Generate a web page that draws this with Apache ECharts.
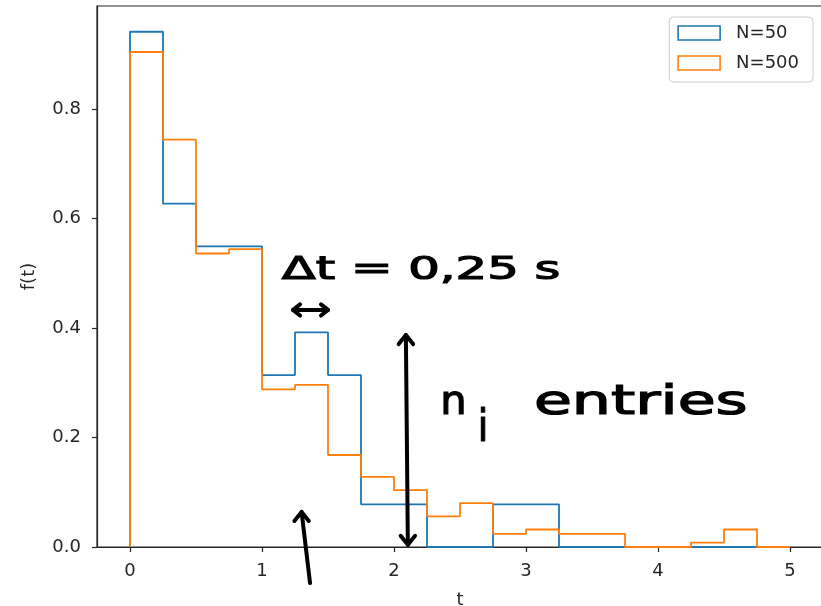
<!DOCTYPE html>
<html>
<head>
<meta charset="utf-8">
<script src="https://cdn.jsdelivr.net/npm/echarts@6/dist/echarts.min.js"></script>
<style>
  html, body { margin: 0; padding: 0; background: #fff; }
  #main { width: 821px; height: 606px; }
</style>
</head>
<body>
<div id="main"></div>
<script>
// Histogram bin edges (Δt = 0.25 s) and normalised bin heights f(t)
const binEdges = [0, 0.25, 0.5, 0.75, 1, 1.25, 1.5, 1.75, 2, 2.25, 2.5,
                  2.75, 3, 3.25, 3.5, 3.75, 4, 4.25, 4.5, 4.75, 5];
const seriesNames = ['N=50', 'N=500'];
const densityN50 = [0.941, 0.627, 0.549, 0.549, 0.314, 0.392, 0.314, 0.078, 0.078, 0,
                    0, 0.078, 0.078, 0, 0, 0, 0, 0, 0, 0];
const densityN500 = [0.904, 0.744, 0.536, 0.544, 0.288, 0.296, 0.168, 0.128, 0.104, 0.056,
                     0.080, 0.024, 0.032, 0.024, 0.024, 0, 0, 0.008, 0.032, 0];
const xTicks = [0, 1, 2, 3, 4, 5];
const yTicks = [0, 0.2, 0.4, 0.6, 0.8];

const FONT = 'DejaVu Sans';
const INK = '#262626';
const BLUE = '#1f77b4';
const ORANGE = '#ff7f0e';

// Outline of a step histogram: up from the first edge, across every bin, down at the last edge
function stepOutline(edges, values) {
  const pts = [[edges[0], 0]];
  for (let i = 0; i < values.length; i++) pts.push([edges[i], values[i]]);
  const n = values.length;
  pts.push([edges[n], values[n - 1]]);
  pts.push([edges[n], 0]);
  return pts;
}

const chart = echarts.init(document.getElementById('main'), null, { renderer: 'canvas' });
const yMax = Math.max(...densityN50, ...densityN500) * 1.05;

chart.setOption({
  animation: false,
  backgroundColor: '#fff',
  grid: {
    left: 97, right: -2, top: 6, bottom: 59,
    outerBoundsMode: 'none', containLabel: false,
    show: true, borderColor: INK, borderWidth: 1.2, backgroundColor: 'transparent'
  },
  xAxis: {
    type: 'value', min: -0.25, max: 5.25,
    name: 't', nameLocation: 'middle', nameGap: 44,
    nameTextStyle: { fontFamily: FONT, fontSize: 18, color: INK },
    axisLine: { show: true, onZero: false, lineStyle: { color: INK, width: 1.2 } },
    axisTick: { show: true, customValues: xTicks, length: 5, lineStyle: { color: INK, width: 1.2 } },
    axisLabel: { customValues: xTicks, margin: 15, fontFamily: FONT, fontSize: 18, color: INK,
                 formatter: v => String(v) },
    splitLine: { show: false }
  },
  yAxis: {
    type: 'value', min: 0, max: yMax,
    name: 'f(t)', nameLocation: 'middle', nameGap: 59,
    nameTextStyle: { fontFamily: FONT, fontSize: 18, color: INK },
    axisLine: { show: true, onZero: false, lineStyle: { color: INK, width: 1.2 } },
    axisTick: { show: true, customValues: yTicks, length: 5, lineStyle: { color: INK, width: 1.2 } },
    axisLabel: { customValues: yTicks, margin: 16, fontFamily: FONT, fontSize: 18, color: INK,
                 formatter: v => v.toFixed(1) },
    splitLine: { show: false }
  },
  legend: {
    orient: 'vertical', right: 8, top: 17,
    icon: 'rect', itemWidth: 42, itemHeight: 14, itemGap: 12,
    padding: [7, 14, 10, 8],
    backgroundColor: 'rgba(255,255,255,0.8)', borderColor: '#cccccc', borderWidth: 1, borderRadius: 4,
    textStyle: { fontFamily: FONT, fontSize: 18, color: INK, padding: [0, 0, 0, 11] },
    data: [
      { name: seriesNames[0], itemStyle: { color: '#fff', borderColor: BLUE, borderWidth: 1.6 } },
      { name: seriesNames[1], itemStyle: { color: '#fff', borderColor: ORANGE, borderWidth: 1.6 } }
    ]
  },
  series: [
    {
      name: seriesNames[0], type: 'line', step: 'end', symbol: 'none', z: 2,
      color: BLUE, lineStyle: { color: BLUE, width: 1.8 },
      data: stepOutline(binEdges, densityN50)
    },
    {
      name: seriesNames[1], type: 'line', step: 'end', symbol: 'none', z: 3,
      color: ORANGE, lineStyle: { color: ORANGE, width: 1.8 },
      data: stepOutline(binEdges, densityN500)
    }
  ]
});

// Hand-drawn notes, anchored in (t, f) data coordinates
const notes = {
  deltaLabel: { text: 'Δt = 0,25 s', t0: 1.15, t1: 3.26, f: 0.505, size: 32 },
  deltaArrow: { t0: 1.235, t1: 1.50, f: 0.433 },
  countArrow: { top: [2.09, 0.387], bottom: [2.105, 0.004] },
  markerArrow: { tip: [1.30, 0.064], tail: [1.364, -0.066] },
  nLabel: { text: 'n', t0: 2.35, t1: 2.55, f: 0.262, size: 40 },
  iLabel: { text: 'i', t0: 2.635, t1: 2.715, f: 0.215, size: 44 },
  entriesLabel: { text: 'entries', t0: 3.06, t1: 4.68, f: 0.262, size: 40 }
};

const px = (t, f) => chart.convertToPixel({ gridIndex: 0 }, [t, f]);
const measureCtx = document.createElement('canvas').getContext('2d');
const PEN = { stroke: '#000', lineWidth: 4, lineCap: 'round', lineJoin: 'round', fill: null };

function word(n) {
  const font = n.size + 'px ' + FONT;
  measureCtx.font = font;
  const w = measureCtx.measureText(n.text).width;
  const a = px(n.t0, n.f), b = px(n.t1, n.f);
  return {
    type: 'text', x: a[0], y: a[1],
    scaleX: (b[0] - a[0]) / w, z: 100,
    style: { text: n.text, font: font, fill: '#000', stroke: '#000', lineWidth: 1.2,
             align: 'left', verticalAlign: 'middle' }
  };
}

function stroke(points) {
  return { type: 'polyline', z: 100, shape: { points: points }, style: PEN };
}

function head(tip, dx, dy) {
  // two short strokes forming an arrow head at tip, opening towards (dx, dy)
  return stroke([[tip[0] + dx - dy * 0.8, tip[1] + dy + dx * 0.8], tip,
                 [tip[0] + dx + dy * 0.8, tip[1] + dy - dx * 0.8]]);
}

const dl = px(notes.deltaArrow.t0, notes.deltaArrow.f);
const dr = px(notes.deltaArrow.t1, notes.deltaArrow.f);
const ct = px(...notes.countArrow.top);
const cb = px(...notes.countArrow.bottom);
const mt = px(...notes.markerArrow.tip);
const mb = px(...notes.markerArrow.tail);

chart.setOption({
  graphic: [
    word(notes.deltaLabel),
    word(notes.nLabel),
    word(notes.iLabel),
    word(notes.entriesLabel),
    stroke([dl, dr]), head(dl, 7, 0), head(dr, -7, 0),
    stroke([ct, cb]), head(ct, 0, 9), head(cb, 0, -9),
    stroke([mt, mb]), head(mt, 0, 9)
  ]
});
</script>
</body>
</html>
